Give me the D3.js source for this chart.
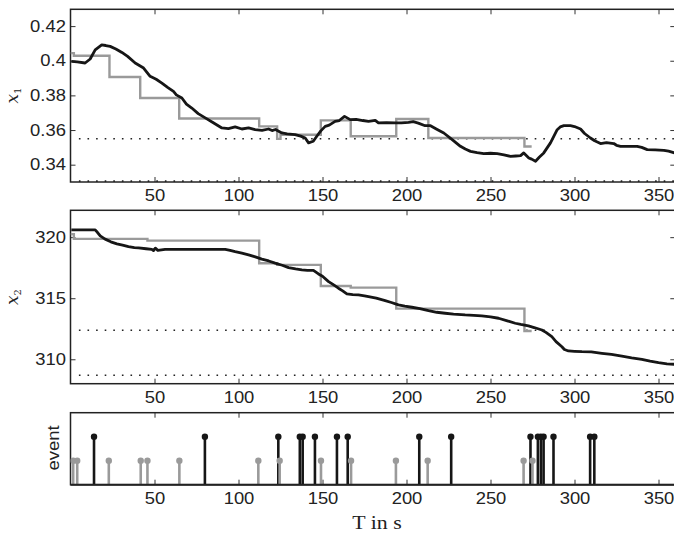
<!DOCTYPE html>
<html>
<head>
<meta charset="utf-8">
<script src="https://cdn.jsdelivr.net/npm/d3@7"></script>
<style>
  body { margin: 0; background: #fff; }
  svg text { fill: #222; }
</style>
</head>
<body>
<div id="chart"></div>
<script>
// x1 measured (black) and sampled (grey step) values
const x1Time = [0.5,4,8.7,11.7,14.7,18.6,21,23.6,27,30.6,34,38.5,43.5,47.4,51,54.4,58,61.3,63,66.3,69,72.2,76,80.2,85,90.1,94,98,102,106,109.9,114,117.9,120,122,125.8,129,133.7,137,139.7,141.7,144.5,146.6,149,151.6,154,157.5,160,163.1,166.5,170,174,177.4,181.4,183.3,188,193.3,197,201.2,204,207,211.1,214.3,218,222.2,227.2,232.1,235,238.1,242,246,250,254,258,261.9,265,267.9,269.8,272.8,274.5,276.8,279,281.7,285.7,289.7,291.5,293.7,297.6,300,303.6,306,309.5,312,315.5,319,323.4,325,327.4,332,337.3,340,343.3,348,353.2,356,359.5];
const x1Value = [0.3996,0.3993,0.3987,0.401,0.4063,0.4092,0.4088,0.4083,0.4068,0.4048,0.4025,0.3987,0.3958,0.391,0.3893,0.3871,0.3845,0.3823,0.3803,0.3785,0.375,0.3727,0.3695,0.367,0.3642,0.3612,0.3608,0.3618,0.3606,0.3612,0.3602,0.3598,0.3606,0.3597,0.3603,0.3583,0.3578,0.3574,0.3565,0.3554,0.3526,0.3535,0.3564,0.3595,0.3621,0.3628,0.365,0.3655,0.3679,0.366,0.3662,0.3655,0.365,0.3656,0.3641,0.3643,0.3641,0.3641,0.3644,0.3648,0.364,0.3625,0.3625,0.3605,0.3583,0.3545,0.3506,0.349,0.3477,0.347,0.3464,0.3466,0.3464,0.3457,0.3448,0.345,0.3452,0.3468,0.3439,0.3432,0.342,0.3443,0.3468,0.3526,0.3602,0.3618,0.3625,0.3625,0.362,0.3606,0.358,0.3554,0.3538,0.3522,0.3527,0.3522,0.3512,0.3506,0.3506,0.3506,0.35,0.3487,0.3485,0.3483,0.3478,0.3468];

const x2Time = [0.5,14.7,16,17.7,20.6,24,27.6,31,34.5,38,40.5,45,48.4,49.4,50.5,52,56.3,68.2,80,92.1,95,98,102,106,110,113.9,118,121.8,126,129.8,134,137.7,141,144.6,147.6,150,153.6,156,159.5,162,164.5,168,171.4,175,177.4,182,187.3,191,195.2,199,203.2,208,213.1,218,223,228,234.9,240,244.8,250,254.8,260,264.7,268,272.6,276,280.6,283,286.5,289,292.5,294,296.4,300,304.4,310,316.3,322,328.2,334,340.1,345,350,355,359.5];
const x2Value = [320.6,320.6,320.4,320.1,319.84,319.62,319.45,319.35,319.23,319.15,319.12,319.05,319.0,318.9,319.1,318.92,319.0,319.0,319.0,319.0,318.92,318.82,318.7,318.55,318.38,318.2,318.05,317.87,317.7,317.51,317.4,317.32,317.28,317.28,316.99,316.8,316.36,316.15,315.82,315.6,315.35,315.3,315.27,315.2,315.13,315.0,314.8,314.65,314.45,314.35,314.26,314.15,313.98,313.85,313.77,313.7,313.63,313.6,313.55,313.48,313.36,313.15,312.95,312.85,312.73,312.6,312.4,312.2,311.85,311.45,311.03,310.8,310.68,310.65,310.62,310.6,310.49,310.4,310.26,310.12,310.0,309.85,309.72,309.62,309.59];

// grey step estimates (value holds from each time to the next)
const stepTime = [0,2,23.2,41.5,45.8,64.7,112.3,123,125,149,166.8,193.9,213,270.2,274.5];
const stepX1 = [0.4044,0.4029,0.3906,0.3785,0.3785,0.3667,0.3621,0.3549,0.3573,0.3656,0.3564,0.3664,0.3554,0.3505,0.3505];
const stepX2 = [320.25,319.86,319.86,319.86,319.72,319.72,317.87,317.73,317.73,316.0,315.87,314.15,314.15,312.32,312.32];

// bounds (dotted lines)
const x1Bounds = [0.355, 0.3305];
const x2Bounds = [312.38, 308.69];

// events
const eventBlack = [14,80,123.7,136.5,138.2,145.5,158.6,165,207.6,226.6,273.8,278.2,280,281.6,287.5,309.3,311.8];
const eventGrey = [1.6,4,22.8,41.8,45.8,64.8,111.8,124.5,149.1,167,193.7,212.6,269.7,275];

const xTicks = [50,100,150,200,250,300,350];
const x1Ticks = [0.34,0.36,0.38,0.4,0.42];
const x2Ticks = [310,315,320];

const W = 674, H = 534;
const BLACK = "#161616", GREY = "#9a9a9a";
const sx = 1.15; // glyphs in the reference are a bit wide

const svg = d3.select("#chart").append("svg")
  .attr("width", W).attr("height", H)
  .style("font-family", "'Liberation Sans', Arial, sans-serif");

const x = d3.scaleLinear().domain([0, 360]).range([70.5, 675.3]);

function panel(top, bottom, yDomain, yTicks, fmt) {
  const y = d3.scaleLinear().domain(yDomain).range([bottom, top]);
  const g = svg.append("g");

  // ticks inside the box on all four sides
  const axB = g.append("g").attr("transform", `translate(0,${bottom})`)
    .call(d3.axisBottom(x).tickValues(xTicks).tickSize(-5).tickPadding(8));
  const axT = g.append("g").attr("transform", `translate(0,${top})`)
    .call(d3.axisTop(x).tickValues(xTicks).tickSize(-5).tickFormat(""));
  const axR = g.append("g").attr("transform", `translate(${x.range()[1]},0)`)
    .call(d3.axisRight(y).tickValues(yTicks || []).tickSize(-5).tickFormat(""));
  const axL = g.append("g").attr("transform", `translate(${x.range()[0]},0)`)
    .call(d3.axisLeft(y).tickValues(yTicks || []).tickSize(-5).tickPadding(4).tickFormat(fmt || ""));

  [axB, axT, axR, axL].forEach(a => {
    a.select(".domain").remove();
    a.selectAll("line").attr("stroke", "#333").attr("stroke-width", 1);
    a.selectAll("text").style("font-size", "16px").attr("fill", "#222")
      .style("font-family", "'Liberation Sans', Arial, sans-serif");
  });
  axB.selectAll("text").attr("transform", `scale(${sx},1)`);
  axL.selectAll("text").attr("transform", `scale(${sx},1)`);

  g.append("rect")
    .attr("x", x.range()[0]).attr("y", top)
    .attr("width", x.range()[1] - x.range()[0]).attr("height", bottom - top)
    .attr("fill", "none").attr("stroke", "#222").attr("stroke-width", 1.5);

  g.append("clipPath").attr("id", "clip" + Math.round(top))
    .append("rect").attr("x", x.range()[0]).attr("y", top)
    .attr("width", x.range()[1] - x.range()[0]).attr("height", bottom - top);

  return { y, g, clip: "clip" + Math.round(top) };
}

function dotted(p, vals) {
  p.g.selectAll(".bound").data(vals).enter().append("line")
    .attr("x1", x(5)).attr("x2", x(360))
    .attr("y1", d => p.y(d)).attr("y2", d => p.y(d))
    .attr("stroke", "#222").attr("stroke-width", 1.6)
    .attr("stroke-dasharray", "1.6,7");
}

function traces(p, times, vals, steps) {
  const clip = p.g.append("g").attr("clip-path", `url(#${p.clip})`);
  const stepLine = d3.line().x(d => x(d[0])).y(d => p.y(d[1])).curve(d3.curveStepAfter);
  clip.append("path")
    .datum(stepTime.map((t, i) => [t, steps[i]]))
    .attr("d", stepLine)
    .attr("fill", "none").attr("stroke", GREY).attr("stroke-width", 2.4);
  const line = d3.line().x(d => x(d[0])).y(d => p.y(d[1]));
  clip.append("path")
    .datum(times.map((t, i) => [t, vals[i]]))
    .attr("d", line)
    .attr("fill", "none").attr("stroke", BLACK).attr("stroke-width", 2.8)
    .attr("stroke-linejoin", "round");
}

// top panel: x1
const p1 = panel(9.3, 182, [0.33, 0.4297], x1Ticks, d3.format("~g"));
dotted(p1, x1Bounds);
traces(p1, x1Time, x1Value, stepX1);

// middle panel: x2
const p2 = panel(210.3, 383.7, [308.0, 322.2], x2Ticks, d3.format("d"));
dotted(p2, x2Bounds);
traces(p2, x2Time, x2Value, stepX2);

// bottom panel: events
const p3 = panel(412.7, 484.7, [0, 3], [], null);
const ev = p3.g.append("g").attr("clip-path", `url(#${p3.clip})`);
function stems(times, level, col) {
  const s = ev.append("g").selectAll("g").data(times).enter().append("g");
  s.append("line")
    .attr("x1", d => x(d)).attr("x2", d => x(d))
    .attr("y1", p3.y(0)).attr("y2", p3.y(level))
    .attr("stroke", col).attr("stroke-width", 2.6);
  s.append("circle")
    .attr("cx", d => x(d)).attr("cy", p3.y(level)).attr("r", 3.2)
    .attr("fill", col);
}
stems(eventBlack, 2, BLACK);
stems(eventGrey, 1, GREY);
p3.g.append("line")
  .attr("x1", x.range()[0]).attr("x2", x.range()[1])
  .attr("y1", p3.y(0)).attr("y2", p3.y(0))
  .attr("stroke", "#222").attr("stroke-width", 2);

// axis labels
function mathLabel(cx, cy, sub) {
  const t = svg.append("text")
    .attr("transform", `translate(${cx},${cy}) rotate(-90)`)
    .attr("text-anchor", "middle")
    .style("font-family", "'DejaVu Serif', 'Liberation Serif', serif");
  t.append("tspan").text("x").style("font-style", "italic").style("font-size", "17px");
  t.append("tspan").text(sub).attr("dy", 3).style("font-size", "10px");
}
mathLabel(18, 95.5, "1");
mathLabel(18, 297, "2");

svg.append("text")
  .attr("transform", `translate(59,448) rotate(-90) scale(${sx},1)`)
  .attr("text-anchor", "middle")
  .style("font-size", "16px")
  .text("event");

svg.append("text")
  .attr("transform", `translate(377,529) scale(${sx},1)`)
  .attr("text-anchor", "middle")
  .style("font-family", "'Liberation Serif', 'Times New Roman', serif")
  .style("font-size", "19px")
  .text("T in s");
</script>
</body>
</html>
